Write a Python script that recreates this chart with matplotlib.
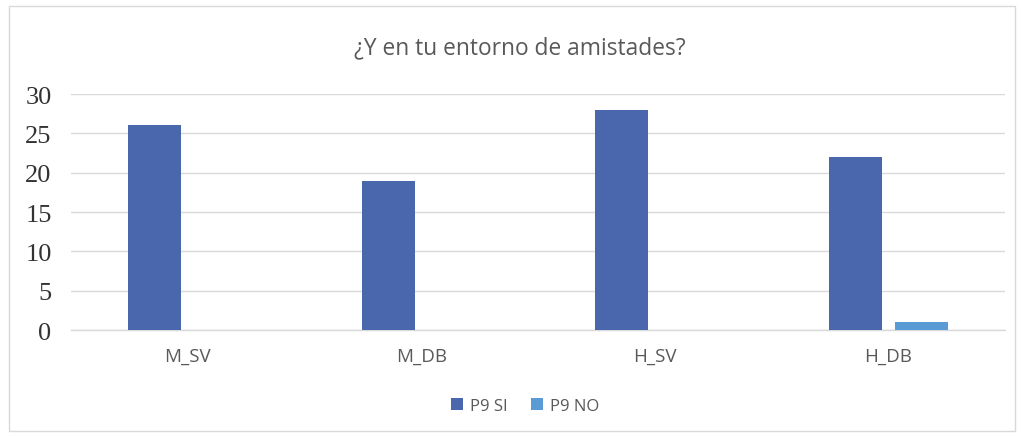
import matplotlib
matplotlib.use("Agg")
import matplotlib.pyplot as plt
from matplotlib.patches import Rectangle
import numpy as np

categories = ["M_SV", "M_DB", "H_SV", "H_DB"]
si_values = [26, 19, 28, 22]
no_values = [0, 0, 0, 1]
series_names = ["P9 SI", "P9 NO"]
yticks = [0, 5, 10, 15, 20, 25, 30]

W, H = 1022, 439
fig = plt.figure(figsize=(W / 100, H / 100), dpi=100)
fig.patch.set_facecolor("white")

# outer frame
fig.patches.append(Rectangle((9 / W, 7 / H), (1015 - 9) / W, (432 - 7) / H,
                             transform=fig.transFigure, fill=False,
                             edgecolor="#d9d9d9", linewidth=1.0))

ax = fig.add_axes([71 / W, 1 - 331 / H, (1005 - 71) / W, (331 - 95) / H])
x = np.arange(len(categories))
bw = 0.227
off = 0.141
c_si = "#4a67ad"
c_no = "#5b9bd5"
ax.bar(x - off, si_values, bw, color=c_si, label=series_names[0], zorder=3)
ax.bar(x + off, no_values, bw, color=c_no, label=series_names[1], zorder=3)

ax.set_xlim(-0.5, len(categories) - 0.5)
ax.set_ylim(0, 30)
ax.set_yticks(yticks)
ax.set_yticklabels([str(v) for v in yticks], fontfamily="Liberation Serif",
                   fontsize=19, color="#333333")
ax.set_xticks(x)
ax.set_xticklabels(categories, fontfamily="Open Sans", fontsize=13.5, color="#595959")
ax.tick_params(axis="both", length=0)
ax.tick_params(axis="y", pad=14)
ax.tick_params(axis="x", pad=12)
ax.grid(axis="y", color="#d9d9d9", linewidth=1.0, zorder=0)
for s in ["top", "right", "left"]:
    ax.spines[s].set_visible(False)
ax.spines["bottom"].set_color("#d9d9d9")
ax.spines["bottom"].set_linewidth(1.0)

fig.text(520 / W, 1 - 48 / H, "¿Y en tu entorno de amistades?", ha="center", va="center",
         fontfamily="Open Sans", fontsize=16.4, color="#595959")

fig.legend(loc="center", bbox_to_anchor=(525 / W, 1 - 407 / H), ncol=2, frameon=False,
           prop={"family": "Open Sans", "size": 12}, labelcolor="#595959",
           handlelength=0.75, handleheight=0.75, handletextpad=0.4, columnspacing=1.4)

fig.savefig("out.png", dpi=100, facecolor="white")
